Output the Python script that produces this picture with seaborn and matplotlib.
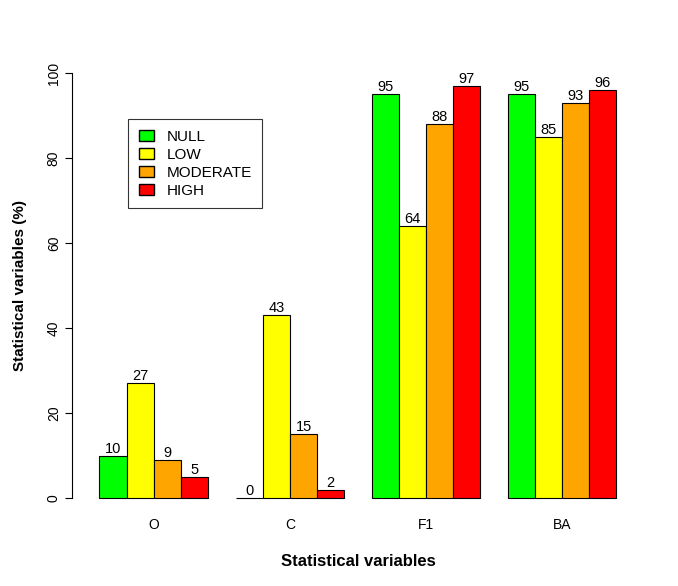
import matplotlib
matplotlib.use("Agg")
import matplotlib.pyplot as plt
import seaborn as sns
import pandas as pd
from matplotlib.patches import Patch

groups = ["O", "C", "F1", "BA"]
levels = ["NULL", "LOW", "MODERATE", "HIGH"]
colors = ["#00FF00", "#FFFF00", "#FFA500", "#FF0000"]
null_vals = [10, 0, 95, 95]
low_vals = [27, 43, 64, 85]
moderate_vals = [9, 15, 88, 93]
high_vals = [5, 2, 97, 96]

rows = []
for lev, vals in zip(levels, [null_vals, low_vals, moderate_vals, high_vals]):
    for g, v in zip(groups, vals):
        rows.append({"group": g, "level": lev, "value": v})
df = pd.DataFrame(rows)

sns.set_style("white")
plt.rcParams["font.family"] = ["Liberation Sans", "DejaVu Sans"]
plt.rcParams["text.color"] = "black"
plt.rcParams["axes.labelcolor"] = "black"
plt.rcParams["xtick.color"] = "black"
plt.rcParams["ytick.color"] = "black"

fig = plt.figure(figsize=(6.78, 5.86), dpi=100)
ax = fig.add_axes([0.106, 0.121, 0.844, 0.783])
sns.barplot(data=df, x="group", y="value", hue="level", hue_order=levels,
            palette=colors, width=0.8, gap=0, edgecolor="black", linewidth=0.8,
            saturation=1, legend=False, ax=ax)

for cont in ax.containers:
    ax.bar_label(cont, fontsize=10.5, padding=0, color="black")

ax.set_xlim(-0.603, 3.603)
ax.set_ylim(-4, 104)
ax.set_yticks([0, 20, 40, 60, 80, 100])
ax.set_yticklabels(["0", "20", "40", "60", "80", "100"], rotation=90, va="center", fontsize=10)
ax.tick_params(axis="x", length=0, pad=2, labelsize=10)
ax.tick_params(axis="y", length=5, direction="out", left=True, pad=3)
for s in ["top", "right", "bottom"]:
    ax.spines[s].set_visible(False)
ax.spines["left"].set_bounds(0, 100)
ax.spines["left"].set_color("black")
ax.set_xlabel("Statistical variables", fontsize=12, fontweight="bold", labelpad=16)
ax.set_ylabel("Statistical variables (%)", fontsize=11, fontweight="bold", labelpad=14)

handles = [Patch(facecolor=c, edgecolor="black", label=l) for c, l in zip(colors, levels)]
leg = ax.legend(handles=handles, loc="upper left", bbox_to_anchor=(0.085, 0.88),
                frameon=True, fancybox=False, edgecolor="black", fontsize=11,
                handlelength=1.0, handleheight=0.8, labelspacing=0.25, borderpad=0.7)
leg.get_frame().set_linewidth(0.8)

fig.savefig("out.png", dpi=100)
